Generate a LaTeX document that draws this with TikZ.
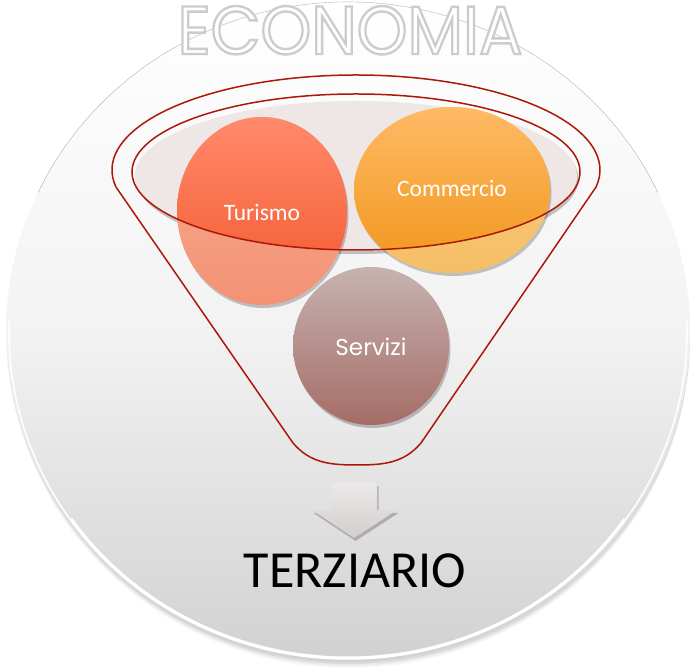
\documentclass[tikz,border=0pt]{standalone}
\usepackage{fontspec}
\setmainfont{Carlito}
\newfontfamily\gothic{Poppins}
\newfontfamily\gothicoutline[FakeBold=3.5]{Poppins}
\usetikzlibrary{shadows}
\definecolor{funnelred}{RGB}{172,24,8}
\definecolor{bowl}{RGB}{239,230,230}
\definecolor{turA}{RGB}{255,138,108}
\definecolor{turB}{RGB}{243,86,42}
\definecolor{turC}{RGB}{250,172,146}
\definecolor{turD}{RGB}{243,146,116}
\definecolor{comA}{RGB}{255,186,102}
\definecolor{comB}{RGB}{240,150,26}
\definecolor{comC}{RGB}{250,206,132}
\definecolor{comD}{RGB}{244,190,100}
\definecolor{serA}{RGB}{198,179,177}
\definecolor{serB}{RGB}{166,108,102}
\definecolor{arrA}{RGB}{236,232,232}
\definecolor{arrB}{RGB}{212,206,206}
\tikzset{
  softshadow/.style={drop shadow={shadow xshift=1.5pt, shadow yshift=-3pt, opacity=0.22, fill=black}},
  funnelline/.style={draw=funnelred, line width=1.5pt},
  bubbletext/.style={text=white, font=\fontsize{23.5}{28}\selectfont, inner sep=0pt},
}
\begin{document}
\begin{tikzpicture}[x=1pt,y=1pt]
\useasboundingbox (0,0) rectangle (697,668);
\fill[white] (0,0) rectangle (697,668);
% big disc shadow
\foreach \i/\o in {7/0.03,5/0.05,3/0.07} \fill[black,opacity=\o] (349,{336-\i}) ellipse[x radius=341, y radius=329];
% big disc
\shade[top color=white, bottom color=black!18, middle color=black!5] (348,336) ellipse[x radius=342, y radius=330];
\draw[white, line width=1.5pt] ([shift={(348,336)}]178:339 and 327) arc[start angle=178, end angle=362, x radius=339, y radius=327];
\draw[white, line width=3pt] ([shift={(348,336)}]215:338 and 326) arc[start angle=215, end angle=325, x radius=338, y radius=326];
\draw[black!30, line width=0.4pt] ([shift={(348,336)}]25:342 and 330) arc[start angle=25, end angle=155, x radius=342, y radius=330];
% title
\node (eco) [anchor=base, inner sep=0pt] at (350,614) {\gothicoutline\fontsize{68}{74}\selectfont\scalebox{0.95}[1]{\color{white}\special{pdf:literal direct 0.80 G}ECONOMIA}};
% bowl fill
\fill[bowl, softshadow] (356,492) ellipse[x radius=221, y radius=75];
% faded lower parts of bubbles
\path[softshadow, top color=turC, bottom color=turD] (262,457) ellipse[x radius=85, y radius=94];
\path[softshadow, top color=comC, bottom color=comD] (452,478) ellipse[x radius=98, y radius=83];
% saturated parts within the bowl
\begin{scope}
  \clip (356,496) ellipse[x radius=224, y radius=78];
  \shade[top color=turA, bottom color=turB] (262,457) ellipse[x radius=85, y radius=94];
  \shade[top color=comA, bottom color=comB] (452,478) ellipse[x radius=98, y radius=83];
\end{scope}
\node[bubbletext] (tur) at (262,455) {Turismo};
\node[bubbletext] (com) at (452,479) {Commercio};
% Servizi
\path[softshadow, top color=serA, bottom color=serB] (371,322) ellipse[x radius=78, y radius=79];
\node[text=white, inner sep=0pt, font=\gothic\fontsize{23}{27}\selectfont] (ser) at (371,321) {Servizi};
% funnel outlines
\draw[funnelline] (356,496) ellipse[x radius=224, y radius=78];
\draw[funnelline, line join=round] ([shift={(356,498)}]190.3:244 and 95) arc[start angle=190.3, end angle=-10.3, x radius=244, y radius=95]
  -- (421,225) .. controls (404,205) and (384,203) .. (357,203)
  .. controls (330,203) and (310,205) .. (293,225) -- cycle;
% arrow
\path[softshadow, top color=arrA, bottom color=arrB] (332,185) -- (377,185) -- (377,158) -- (397,158) -- (354,130) -- (312,158) -- (332,158) -- cycle;
% result
\node (ter) [anchor=base, font=\fontsize{52}{57}\selectfont] at (355,80) {TERZIARIO};
\end{tikzpicture}
\end{document}
